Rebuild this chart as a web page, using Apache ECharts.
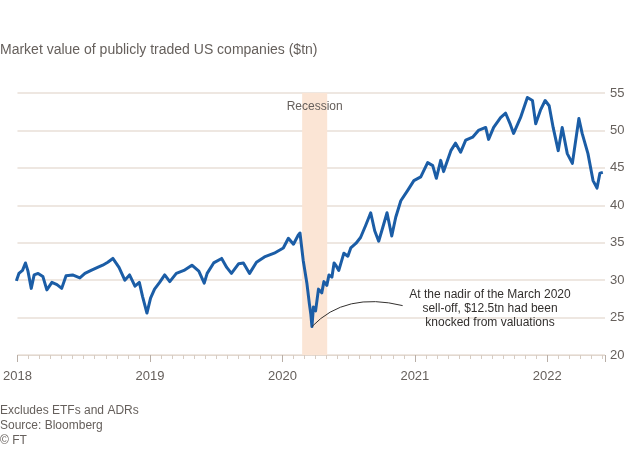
<!DOCTYPE html>
<html>
<head>
<meta charset="utf-8">
<script src="https://cdn.jsdelivr.net/npm/echarts@6/dist/echarts.min.js"></script>
<style>
html,body{margin:0;padding:0;background:#ffffff;}
#chart{width:630px;height:450px;}
</style>
</head>
<body>
<div id="chart"></div>
<script>
const titleText = 'Market value of publicly traded US companies ($tn)';
const footerLines = ['Excludes ETFs and ADRs', 'Source: Bloomberg', '\u00A9 FT'];
const annotationText = 'At the nadir of the March 2020\nsell-off, $12.5tn had been\nknocked from valuations';
const recessionLabel = 'Recession';
const recession = ['2020-02-25', '2020-05-04'];
const nadir = ['2020-03-23', 23.8];
const annotationAnchor = ['2020-11-28', 26.6];
const axisRange = ['2018-01-01', '2022-06-09'];
const yTicks = [20, 25, 30, 35, 40, 45, 50, 55];

const dates = [
'2017-12-29','2018-01-05','2018-01-15','2018-01-23','2018-01-30','2018-02-08','2018-02-16','2018-02-27',
'2018-03-12','2018-03-23','2018-04-06','2018-04-20','2018-05-03','2018-05-15','2018-06-02','2018-06-22',
'2018-07-06','2018-07-23','2018-08-10','2018-08-24','2018-09-07','2018-09-21','2018-10-08','2018-10-24',
'2018-11-06','2018-11-21','2018-12-03','2018-12-12','2018-12-24',
'2019-01-03','2019-01-14','2019-01-28','2019-02-11','2019-02-25','2019-03-15','2019-04-05','2019-04-27',
'2019-05-16','2019-05-31','2019-06-08','2019-06-26','2019-07-18','2019-08-01','2019-08-14','2019-09-03',
'2019-09-16','2019-10-03','2019-10-22','2019-11-13','2019-12-10',
'2020-01-04','2020-01-18','2020-02-01','2020-02-14','2020-02-19','2020-02-28','2020-03-09','2020-03-16',
'2020-03-20','2020-03-23','2020-03-27','2020-04-02','2020-04-10','2020-04-19','2020-04-25','2020-05-03',
'2020-05-09','2020-05-17','2020-05-23','2020-05-29','2020-06-05','2020-06-19','2020-06-30','2020-07-08',
'2020-07-22','2020-08-04','2020-08-18','2020-09-01','2020-09-12','2020-09-23','2020-10-04','2020-10-16',
'2020-10-29','2020-11-09','2020-11-23','2020-12-12','2020-12-29',
'2021-01-17','2021-02-05','2021-02-19','2021-03-01','2021-03-13','2021-03-21','2021-04-10','2021-04-23',
'2021-05-07','2021-05-21','2021-06-09','2021-06-25','2021-07-15','2021-07-23','2021-08-06','2021-08-25',
'2021-09-08','2021-09-21','2021-09-30','2021-10-19','2021-11-07','2021-11-21','2021-11-30','2021-12-13',
'2021-12-26',
'2022-01-06','2022-01-17','2022-01-31','2022-02-11','2022-02-25','2022-03-11','2022-03-29','2022-04-07',
'2022-04-23','2022-05-07','2022-05-18','2022-05-26','2022-06-03'
];
const values = [
29.9,30.9,31.3,32.3,31.2,28.9,30.7,30.9,
30.5,28.7,29.7,29.4,28.9,30.6,30.7,30.3,
30.9,31.3,31.7,32.0,32.4,32.9,31.7,30.0,
30.7,29.2,29.7,27.8,25.6,
27.6,28.8,29.7,30.7,29.8,30.9,31.3,32.0,
31.2,29.6,30.9,32.3,32.9,31.7,30.9,32.2,
32.3,30.9,32.4,33.1,33.6,
34.3,35.6,34.8,36.0,36.3,32.6,29.6,26.8,
25.4,23.8,26.4,25.9,28.8,28.3,29.8,29.3,
30.7,30.4,32.3,31.9,31.3,33.6,33.2,34.3,
34.9,35.7,37.3,39.0,36.6,35.2,37.0,39.0,
35.9,38.4,40.6,42.0,43.3,
43.8,45.7,45.3,43.6,46.0,44.5,47.3,48.3,
47.1,48.7,49.1,50.0,50.4,48.8,50.4,51.7,
52.3,50.8,49.6,51.7,54.4,54.0,50.9,52.7,
54.0,
53.3,50.4,47.3,50.4,46.9,45.6,51.6,49.6,
46.9,43.3,42.3,44.3,44.4
];

const YEAR_MS = 365.25 * 864e5;
const GRAY = '#66605c';
const FONT = 'Liberation Sans, Arial, sans-serif';

const chart = echarts.init(document.getElementById('chart'), null, {renderer: 'canvas'});

const option = {
  animation: false,
  backgroundColor: '#ffffff',
  textStyle: {fontFamily: FONT},
  title: {
    text: titleText, left: 0, top: 43, padding: 0,
    textStyle: {fontSize: 14, fontWeight: 'normal', color: GRAY, fontFamily: FONT}
  },
  grid: {left: 15, right: 25, top: 93, bottom: 95, containLabel: false},
  xAxis: {
    type: 'value',
    min: Date.parse(axisRange[0]),
    max: Date.parse(axisRange[1]),
    interval: YEAR_MS,
    splitLine: {show: false},
    axisLine: {show: true, lineStyle: {color: '#e2d8cf', width: 1}},
    axisTick: {show: true, length: 7, lineStyle: {color: '#b8aea6', width: 1}},
    minorTick: {show: true, splitNumber: 12, length: 4, lineStyle: {color: '#d6ccc3', width: 1}},
    axisLabel: {
      margin: 15, fontSize: 13, color: GRAY, fontFamily: FONT, showMaxLabel: false,
      formatter: function (v) { return String(new Date(v + 2 * 864e5).getUTCFullYear()); }
    }
  },
  yAxis: {
    type: 'value',
    position: 'right',
    min: yTicks[0], max: yTicks[yTicks.length - 1], interval: yTicks[1] - yTicks[0],
    axisLine: {show: false}, axisTick: {show: false},
    splitLine: {show: true, lineStyle: {color: '#e8dfd7', width: 1.5}},
    axisLabel: {margin: 5, fontSize: 13, color: GRAY, fontFamily: FONT}
  },
  series: [{
    type: 'line',
    data: dates.map((d, i) => [Date.parse(d), values[i]]),
    showSymbol: false,
    symbol: 'none',
    lineStyle: {color: '#1b5da6', width: 3, join: 'round'},
    z: 3,
    markArea: {
      silent: true,
      itemStyle: {color: '#fbe5d5'},
      label: {show: true, position: 'insideTop', distance: 8, color: GRAY, fontSize: 12, fontFamily: FONT},
      data: [[{name: recessionLabel, xAxis: Date.parse(recession[0])}, {xAxis: Date.parse(recession[1])}]]
    }
  }],
  graphic: [
    {id: 'note', type: 'text', x: 490, y: 288, z: 10,
     style: {text: annotationText, textAlign: 'center', textVerticalAlign: 'top', fontSize: 12, lineHeight: 14, fill: '#33302e', fontFamily: FONT}},
    {id: 'f0', type: 'text', x: 0, y: 405, style: {text: footerLines[0], fontSize: 12, fill: GRAY, fontFamily: FONT}},
    {id: 'f1', type: 'text', x: 0, y: 420, style: {text: footerLines[1], fontSize: 12, fill: GRAY, fontFamily: FONT}},
    {id: 'f2', type: 'text', x: 0, y: 435, style: {text: footerLines[2], fontSize: 12, fill: GRAY, fontFamily: FONT}}
  ]
};
chart.setOption(option);

// connector curve anchored through the chart's own scales
const p0 = chart.convertToPixel({gridIndex: 0}, [Date.parse(nadir[0]), nadir[1]]);
const p1 = chart.convertToPixel({gridIndex: 0}, [Date.parse(annotationAnchor[0]), annotationAnchor[1]]);
chart.setOption({
  graphic: [{
    id: 'connector', type: 'bezierCurve', z: 9, silent: true,
    shape: {x1: p0[0], y1: p0[1], x2: p1[0], y2: p1[1],
            cpx1: p0[0] + (p1[0] - p0[0]) * 0.37, cpy1: p1[1] - 14},
    style: {stroke: '#33302e', lineWidth: 1, fill: null}
  }]
});
</script>
</body>
</html>
